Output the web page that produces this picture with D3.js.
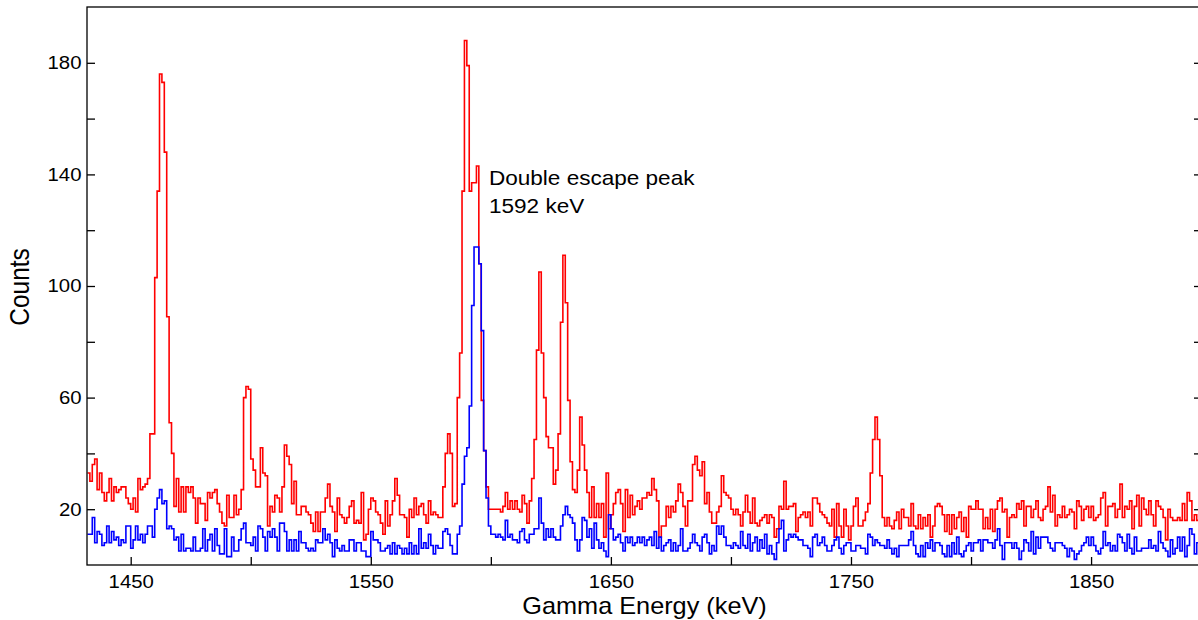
<!DOCTYPE html>
<html>
<head>
<meta charset="utf-8">
<script src="https://cdn.jsdelivr.net/npm/d3@7"></script>
<style>
  body { margin: 0; background: #fff; }
  svg { display: block; }
  text { font-family: "Liberation Sans", Arial, Helvetica, sans-serif; fill: #000; }
</style>
</head>
<body>
<svg id="chart" width="1198" height="620"></svg>
<script>
// 1 keV bins, first bin starts at 1432 keV
const binStart = 1432;
const binWidth = 1;

// red spectrum (counts per bin)
const redCounts = [
  33,30,36,38,27,33,26,23,26,31, 23,28,26,27,28,28,24,22,20,24, 19,31,27,28,29,31,47,47,103,134,
  176,173,148,89,51,40,21,31,19,28, 19,28,26,28,24,15,24,22,22,16, 26,24,26,27,22,19,15,14,25,17,
  17,25,
  18,20,27,60,64,63,38,34,28,28, 42,33,32,14,21,19,25,24,19,28, 43,39,36,22,30,18,18,21,21,19,
  18,15,12,19,12,19,19,24,29,21, 19,12,24,18,17,15,17,21,23,15, 16,15,26,9,11,20,24,23,19,18,
  15,11,
  23,14,18,23,31,25,18,18,17,10, 20,17,24,18,21,22,18,15,23, 18,19,18,17,17,28,40,47,40,21,
  22,60,76,134, 188,179,134,137,137,143,108,59,41,28, 20,20,20,20,20,19,21,26,20,23,
  20,23,20,19,25,22,15, 23,31,
  45,77,
  105,76,60,46,42,42,29,34,47,87, 111,94,59,37,27,26,34,53,43,34, 26,17,28,17,22,17,22,10,33,13,
  18,22,26,27,22,12,27,17,25,18, 21,23,20,24,24,26,25,31,27,23, 10,14,14,21,17,21,19,23,29,26,
  21,14,
  23,23,36,39,34,32,37,22,26,19, 15,15,19,21,32,26,25,24,20, 18,20,18,14,19,25,19,15,24,15,
  14,16,17,18,15,18,17,10,13, 21,20,30,20,21,21,22,12,17, 18,19,17,19,14,24,24,22,19,
  18,17,15,14,20,10,
  22,14,10,20,14,9,14,21,24,14, 14,16,19,22,33,45, 53,45,32,17,14,17,14,13,16,19,
  13,20,17,17,14,22,14,13,18,13, 17,14,18,10,14,21,22,21,18,12, 18,11,18,13,17,19,12,17,10,21,
  20,20,23,20,20,13,
  17,13,20,12,20,23,24,19,20, 10,17,18,17,22,20,23,14,21,21, 17,20,23,17,16,20,21,28,19,
  25,14,18,17,21,17,18,20,19, 13,23,21,16,20,21,17,21,16, 17,18,24,26,14,21,21,22,17,
  20,29,17,21,20,23,13,
  21,25,14,24,20,18,23,18,14,23, 21,20,17,9,20,17,16,16,17,16, 22,16,26,23,16,18,16,29
];

// blue spectrum (counts per bin)
const blueCounts = [
  11,11,17,8,12,11,7,8,14,8, 12,9,10,7,9,8,14,14,6,9, 14,9,11,8,11,14,14,10,20,24,
  27,22,23,13,14,13,9,10,5,11, 5,6,6,5,10,5,5,6,13,5, 9,11,5,13,7,4,4,13,3,3,
  10,5,
  5,9,13,15,8,8,7,10,5,14, 13,10,5,12,10,13,10,5,15,15, 12,5,9,5,9,5,12,8,8,6,
  5,6,5,9,8,8,13,9,11,8, 3,9,6,5,7,5,5,9,9,5, 8,8,5,5,3,3,12,9,9,8,
  5,5,
  6,7,4,8,4,7,6,4,6,4, 8,4,7,4,13,6,8,6,11, 7,4,7,6,6,12,13,11,7,4,4,11,14,
  29,39,42,57,93,114,114,108,84,41, 24,14,11,11,10,11,10,9,16,10, 11,9,9,8,12,13,9,8,11,11,
  13,13,
  24,15,9,13,10,13,10,9,9,14, 18,21,18,17,15,9,5,9,17,16, 10,13,6,15,9,6,8,5,3,18,
  13,9,10,11,8,5,10,8,10,7, 8,10,8,10,7,9,10,7,12,6, 10,5,7,8,9,5,8,5,7,13,
  5,5,
  6,8,11,8,7,5,10,11,8,4, 7,5,14,11,14,10,7,7,6,8, 7,6,12,7,6,11,5,8,10,5,
  9,6,11,4,7,4,2,8,13, 16,5,9,11,10,11,10,9,9,7, 7,6,3,10,11,7,8,10,7,5,
  5,7,9,
  10,6,4,7,8,8,5,5,7, 7,6,6,4,11,10,7,9,8, 7,7,6,9,6,4,6,3,7,
  7,7,7,9,12,7,4,3,7, 3,8,6,9,5,8,8,7,4, 3,7,3,8,4,10,4,3,5,
  7,8,5,8,8,9,5,9,
  9,8,8,6,9,13,7,2,8, 8,8,6,8,6,2,5,9,8,5, 12,4,10,6,10,10,10,8,6,
  5,8,8,8,7,6,3,6,5, 2,4,5,7,8,10,7,10,7, 5,4,6,12,7,8,5,7,5,
  11,10,8,5,11,6,4,
  10,5,5,6,6,6,9,6,7,5, 12,8,6,5,3,9,4,6,10,5, 10,3,7,13,11,4,8,14
];

const yTicks = [20, 40, 60, 80, 100, 120, 140, 160, 180];
const yLabels = [20, 60, 100, 140, 180];
const xTicks = [1450, 1500, 1550, 1600, 1650, 1700, 1750, 1800, 1850];
const xLabels = [1450, 1550, 1650, 1750, 1850];
const peakNote = ["Double escape peak", "1592 keV"];

console.log("bins", redCounts.length, blueCounts.length);

// the picture is slightly wider than it is tall, stretch the text to match
const stretch = 1.1;

const plot = { left: 87, top: 7, right: 1202, bottom: 565 };

const x = d3.scaleLinear().domain([1431.8, 1896.2]).range([plot.left, plot.right]);
const y = d3.scaleLinear().domain([0, 200]).range([plot.bottom, plot.top]);

const svg = d3.select("#chart");

svg.append("clipPath").attr("id", "clip")
  .append("rect")
  .attr("x", plot.left).attr("y", plot.top)
  .attr("width", plot.right - plot.left).attr("height", plot.bottom - plot.top);

// step points: each bin value held over its width, closing point at the last edge
function toSteps(counts) {
  const pts = counts.map((c, i) => [binStart + i * binWidth, c]);
  pts.push([binStart + counts.length * binWidth, counts[counts.length - 1]]);
  return pts;
}

const line = d3.line()
  .x(d => x(d[0]))
  .y(d => y(d[1]))
  .curve(d3.curveStepAfter);

const lines = svg.append("g").attr("clip-path", "url(#clip)");

lines.append("path")
  .datum(toSteps(redCounts))
  .attr("d", line)
  .style("fill", "none")
  .style("stroke", "#ff0000")
  .style("stroke-width", "1.6px")
  .style("stroke-linejoin", "miter");

lines.append("path")
  .datum(toSteps(blueCounts))
  .attr("d", line)
  .style("fill", "none")
  .style("stroke", "#0000ff")
  .style("stroke-width", "1.6px")
  .style("stroke-linejoin", "miter");

// axes, ticks pointing inward
const yAxis = svg.append("g")
  .attr("transform", `translate(${plot.left},0)`)
  .call(d3.axisLeft(y).tickValues(yTicks).tickSize(-8).tickSizeOuter(0).tickPadding(5)
    .tickFormat(d => yLabels.includes(d) ? d : ""));

const yAxisRight = svg.append("g")
  .attr("transform", `translate(${plot.right},0)`)
  .call(d3.axisRight(y).tickValues(yTicks).tickSize(-8).tickSizeOuter(0).tickFormat(""));

const xAxis = svg.append("g")
  .attr("transform", `translate(0,${plot.bottom})`)
  .call(d3.axisBottom(x).tickValues(xTicks).tickSize(-8).tickSizeOuter(0).tickPadding(10)
    .tickFormat(d => xLabels.includes(d) ? d : ""));

[yAxis, yAxisRight, xAxis].forEach(g => {
  g.select(".domain").remove();
  g.selectAll(".tick line").style("stroke", "#000").style("stroke-width", "1.3px");
  g.selectAll(".tick text")
    .style("font-size", "18.5px")
    .style("font-family", '"Liberation Sans", Arial, sans-serif')
    .attr("fill", "#000")
    .attr("transform", `scale(${stretch},1)`);
});

// frame
svg.append("rect")
  .attr("x", plot.left).attr("y", plot.top)
  .attr("width", plot.right - plot.left).attr("height", plot.bottom - plot.top)
  .style("fill", "none")
  .style("stroke", "#000")
  .style("stroke-width", "1.3px");

// axis titles
svg.append("text")
  .attr("transform", `translate(${(plot.left + plot.right) / 2},614) scale(${stretch},1)`)
  .attr("text-anchor", "middle")
  .style("font-size", "23px")
  .text("Gamma Energy (keV)");

svg.append("text")
  .attr("transform", `translate(29,287) scale(${stretch},1) rotate(-90)`)
  .attr("text-anchor", "middle")
  .style("font-size", "24.5px")
  .text("Counts");

// annotation next to the peak
svg.append("text")
  .attr("transform", `translate(489,185) scale(${stretch},1)`)
  .style("font-size", "20.5px")
  .text(peakNote[0]);

svg.append("text")
  .attr("transform", `translate(489,212.5) scale(${stretch},1)`)
  .style("font-size", "20.5px")
  .text(peakNote[1]);
</script>
</body>
</html>
